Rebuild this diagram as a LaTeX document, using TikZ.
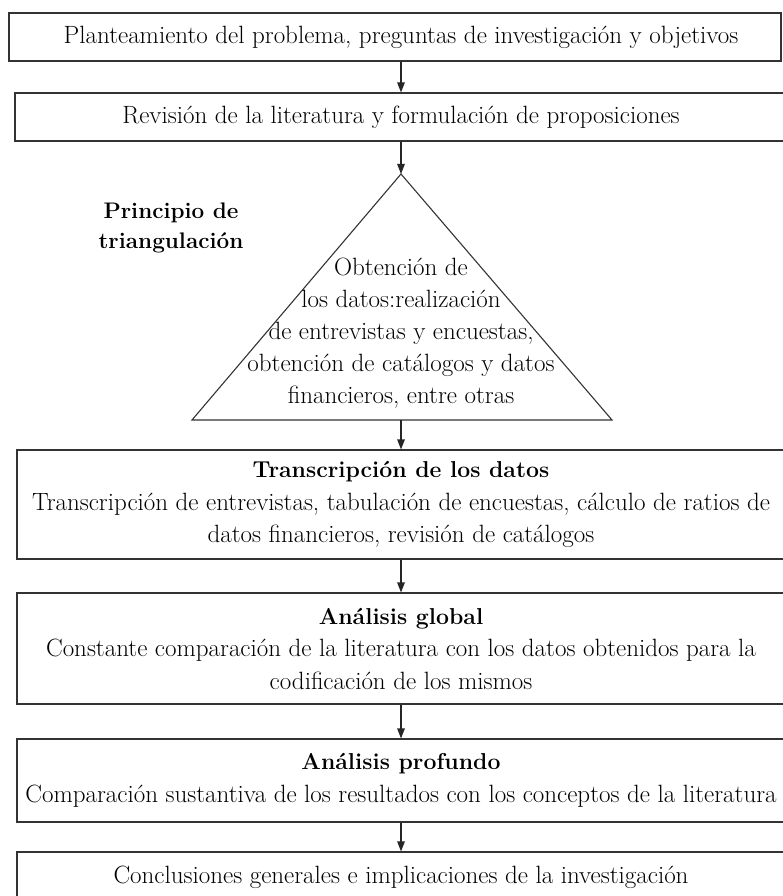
\documentclass[tikz,border=0pt]{standalone}
\usepackage{fontspec}
\usetikzlibrary{arrows.meta}

\newcommand{\boxtitle}[1]{{\fontsize{23}{32.5}\selectfont\bfseries #1}}

\tikzset{
  box/.style={draw=black!80,line width=1.1pt,align=center,inner sep=0pt,
    font=\fontsize{25}{32.5}\selectfont},
}

\begin{document}
\begin{tikzpicture}[x=1pt,y=-1pt]

        \useasboundingbox (0,0) rectangle (782,896);

        \begin{scope}[every node/.style={box}]
          \node[minimum width=772,minimum height=48]  (1) at (395,37)    {\hspace*{12pt}Planteamiento del problema, preguntas de investigación y objetivos};
          \node[minimum width=772,minimum height=48]  (2) at (401,117)   {Revisión de la literatura y formulación de proposiciones};
          \node[minimum width=768,minimum height=109] (4) at (401,504.5) {\boxtitle{Transcripción de los datos}\\
            Transcripción de entrevistas, tabulación de encuestas, cálculo de ratios de\\
            datos financieros, revisión de catálogos};
          \node[minimum width=768,minimum height=111] (5) at (401,648.5) {\boxtitle{Análisis global}\\
            Constante comparación de la literatura con los datos obtenidos para la\\
            codificación de los mismos};
          \node[minimum width=768,minimum height=83]  (6) at (401,780.5) {\boxtitle{Análisis profundo}\\
            Comparación sustantiva de los resultados con los conceptos de la literatura};
          \node[minimum width=768,minimum height=50]  (7) at (401,877)   {Conclusiones generales e implicaciones de la investigación};
        \end{scope}

        % triangulo
        \coordinate (t) at (401,174);
        \coordinate (l) at (192,420);
        \coordinate (r) at (612,420);
        \coordinate (b) at (401,420);
        \draw[draw=black!80,line width=1.1pt] (t) -- (l) -- (r) -- cycle;

        \begin{scope}[every node/.style={align=center,inner sep=0pt,font=\fontsize{25}{32}\selectfont}]
          \node (3) at (401,333) {Obtención de\\los datos:realización\\de entrevistas y encuestas,\\obtención de catálogos y datos\\financieros, entre otras};
          \node[font=\fontsize{22.5}{30}\selectfont\bfseries] (p) at (171,228) {Principio de\\triangulación};
        \end{scope}

        \begin{scope}[every edge/.style={draw,draw=black!85,line width=1.1pt,-{Triangle[length=10pt,width=7.5pt]}}]
          \path (1.south -| 2.north) edge (2);
          \path (2) edge (t);
          \path (b) edge (4);
          \path (4) edge (5);
          \path (5) edge (6);
          \path (6) edge (7);
        \end{scope}

      \end{tikzpicture}
\end{document}
